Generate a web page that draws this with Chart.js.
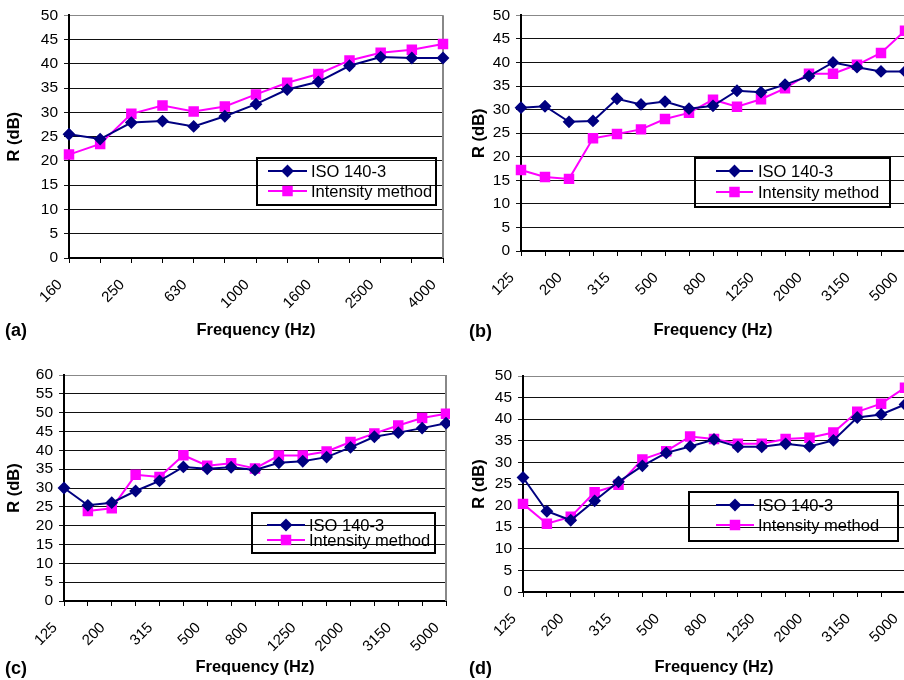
<!DOCTYPE html>
<html>
<head>
<meta charset="utf-8">
<script src="https://cdn.jsdelivr.net/npm/chart.js@4.4.1/dist/chart.umd.min.js"></script>
<style>
  body { margin: 0; width: 904px; height: 680px; overflow: hidden; background: #fff; position: relative;
         font-family: "Liberation Sans", Arial, sans-serif; }
  .panel { position: absolute; height: 340px; }
  .tag { position: absolute; font-weight: bold; font-size: 18px; line-height: 20px; }
</style>
</head>
<body>
<div class="panel" style="left:0;top:0;width:450px"><canvas id="chartA"></canvas></div>
<div class="panel" style="left:450px;top:0;width:460px"><canvas id="chartB"></canvas></div>
<div class="panel" style="left:0;top:340px;width:450px"><canvas id="chartC"></canvas></div>
<div class="panel" style="left:450px;top:340px;width:460px"><canvas id="chartD"></canvas></div>
<div class="tag" style="left:5px;top:320px">(a)</div>
<div class="tag" style="left:469px;top:321px">(b)</div>
<div class="tag" style="left:5px;top:658px">(c)</div>
<div class="tag" style="left:469px;top:658px">(d)</div>
<script>
// frequency bands
const freqA = ["160", "200", "250", "400", "630", "800", "1000", "1250", "1600", "2000", "2500", "3150", "4000"];
const freqThird = ["125", "160", "200", "250", "315", "400", "500", "630", "800", "1000",
                   "1250", "1600", "2000", "2500", "3150", "4000", "5000"];

// R (dB) per panel
const isoA = [25.5, 24.5, 27.9, 28.2, 27.1, 29.2, 31.7, 34.7, 36.3, 39.6, 41.4, 41.2, 41.2];
const intA = [21.3, 23.5, 29.7, 31.4, 30.2, 31.2, 33.7, 36.1, 37.9, 40.7, 42.3, 42.9, 44.1];

const isoB = [30.4, 30.7, 27.4, 27.6, 32.3, 31.1, 31.7, 30.2, 30.8, 34.0, 33.7, 35.3, 37.1, 40.0, 39.0, 38.1, 38.1];
const intB = [17.2, 15.7, 15.3, 23.9, 24.8, 25.8, 28.0, 29.3, 32.1, 30.6, 32.2, 34.5, 37.6, 37.6, 39.5, 42.0, 46.7];

const isoC = [30.0, 25.4, 26.1, 29.2, 31.9, 35.6, 35.1, 35.5, 34.8, 36.7, 37.1, 38.2, 40.8, 43.6, 44.7, 45.9, 47.2];
const intC = [null, 23.9, 24.6, 33.5, 32.9, 38.7, 35.9, 36.6, 35.2, 38.6, 38.6, 39.7, 42.2, 44.5, 46.6, 48.6, 49.7];

const isoD = [26.5, 18.7, 16.6, 21.1, 25.5, 29.2, 32.2, 33.7, 35.3, 33.6, 33.6, 34.3, 33.7, 35.1, 40.4, 41.1, 43.4];
const intD = [20.4, 15.8, 17.4, 23.1, 24.8, 30.7, 32.6, 36.0, 35.4, 34.3, 34.3, 35.4, 35.7, 36.9, 41.7, 43.6, 47.3];

const NAVY = "#000080";
const MAGENTA = "#ff00ff";
const FONT = "'Liberation Sans', Arial, sans-serif";

// gray right edge of the plot area
const frame = {
  id: "frame",
  beforeDatasetsDraw(chart) {
    const { ctx, chartArea: a } = chart;
    ctx.save();
    ctx.strokeStyle = "#888";
    ctx.lineWidth = 2;
    ctx.beginPath();
    ctx.moveTo(a.right, a.top);
    ctx.lineTo(a.right, a.bottom);
    ctx.stroke();
    ctx.restore();
  }
};

// Excel-style legend box drawn inside the plot
const boxLegend = {
  id: "boxLegend",
  afterDraw(chart, args, o) {
    const ctx = chart.ctx;
    ctx.save();
    ctx.lineWidth = 2;
    ctx.strokeStyle = "#000";
    ctx.strokeRect(o.x, o.y, o.w, o.h);
    chart.data.datasets.forEach((ds, i) => {
      const y = o.rows[i];
      ctx.strokeStyle = ds.borderColor;
      ctx.fillStyle = ds.backgroundColor;
      ctx.lineWidth = 2;
      ctx.beginPath();
      ctx.moveTo(o.line[0], y);
      ctx.lineTo(o.line[1], y);
      ctx.stroke();
      Chart.helpers.drawPoint(ctx, { pointStyle: ds.pointStyle, radius: ds.pointRadius, borderWidth: 1, rotation: 0 },
        (o.line[0] + o.line[1]) / 2, y);
      ctx.fillStyle = "#000";
      ctx.font = "16.5px " + FONT;
      ctx.textBaseline = "middle";
      ctx.fillText(ds.label, o.text, y + 1);
    });
    ctx.restore();
  }
};

function makeChart(id, labels, iso, intensity, cfg) {
  return new Chart(document.getElementById(id), {
    type: "line",
    data: {
      labels,
      datasets: [
        { label: "ISO 140-3", data: iso, borderColor: NAVY, backgroundColor: NAVY, borderWidth: 2,
          pointStyle: "rectRot", pointRadius: 5, pointHoverRadius: 5 },
        { label: "Intensity method", data: intensity, borderColor: MAGENTA, backgroundColor: MAGENTA, borderWidth: 2,
          pointStyle: "rect", pointRadius: 6, pointHoverRadius: 6 }
      ]
    },
    options: {
      responsive: true,
      maintainAspectRatio: false,
      animation: false,
      layout: { autoPadding: false, padding: { left: 0, top: cfg.top, right: cfg.right, bottom: 0 } },
      plugins: { legend: { display: false }, tooltip: { enabled: false }, boxLegend: cfg.legend },
      scales: {
        x: {
          offset: false,
          afterFit: (s) => {
            s.height = cfg.xHeight;
            // rotated labels would otherwise shrink the plot on the right
            s.paddingLeft = 0;
            s.paddingRight = 0;
          },
          grid: { drawOnChartArea: false, tickLength: 5, color: "#000" },
          border: { color: "#000", width: 2 },
          ticks: {
            autoSkip: false, minRotation: 45, maxRotation: 45, padding: 13, labelOffset: -9,
            color: "#000", font: { family: FONT, size: 15 },
            callback: (v, i) => (i % 2 ? "" : labels[i])
          },
          title: { display: true, text: "Frequency (Hz)", color: "#000",
                   font: { family: FONT, size: 16.5, weight: "bold" }, padding: { top: 0, bottom: cfg.xTitlePad } }
        },
        y: {
          min: 0,
          max: cfg.yMax,
          afterFit: (s) => { s.width = cfg.yWidth; },
          grid: { tickLength: 5, color: (c) => (c.tick && c.tick.value === cfg.yMax ? "#888" : "#111"), lineWidth: 1 },
          border: { color: "#000", width: 2 },
          ticks: { stepSize: 5, autoSkip: false, padding: 6, color: "#000", font: { family: FONT, size: 15.5 } },
          title: { display: true, text: "R (dB)", color: "#000",
                   font: { family: FONT, size: 16.5, weight: "bold" }, padding: { top: cfg.yTitlePad, bottom: 0 } }
        }
      }
    },
    plugins: [frame, boxLegend]
  });
}

makeChart("chartA", freqA, isoA, intA, {
  top: 15, right: 7, yWidth: 69, xHeight: 82, yMax: 50, yTitlePad: 5, xTitlePad: 0,
  legend: { x: 257, y: 158, w: 179, h: 47, rows: [171, 191], line: [268, 307], text: 311 }
});
makeChart("chartB", freqThird, isoB, intB, {
  top: 15, right: 5, yWidth: 71, xHeight: 89, yMax: 50, yTitlePad: 20, xTitlePad: 0,
  legend: { x: 245, y: 158, w: 195, h: 49, rows: [171, 192], line: [266, 303], text: 308 }
});
makeChart("chartC", freqThird, isoC, intC, {
  top: 35, right: 4, yWidth: 64, xHeight: 79, yMax: 60, yTitlePad: 5, xTitlePad: 3,
  legend: { x: 252, y: 173, w: 183, h: 40, rows: [185, 200], line: [267, 305], text: 309 }
});
makeChart("chartD", freqThird, isoD, intD, {
  top: 36, right: 5, yWidth: 73, xHeight: 88, yMax: 50, yTitlePad: 20, xTitlePad: 3,
  legend: { x: 239, y: 152, w: 209, h: 49, rows: [165, 185], line: [266, 304], text: 308 }
});
</script>
</body>
</html>
